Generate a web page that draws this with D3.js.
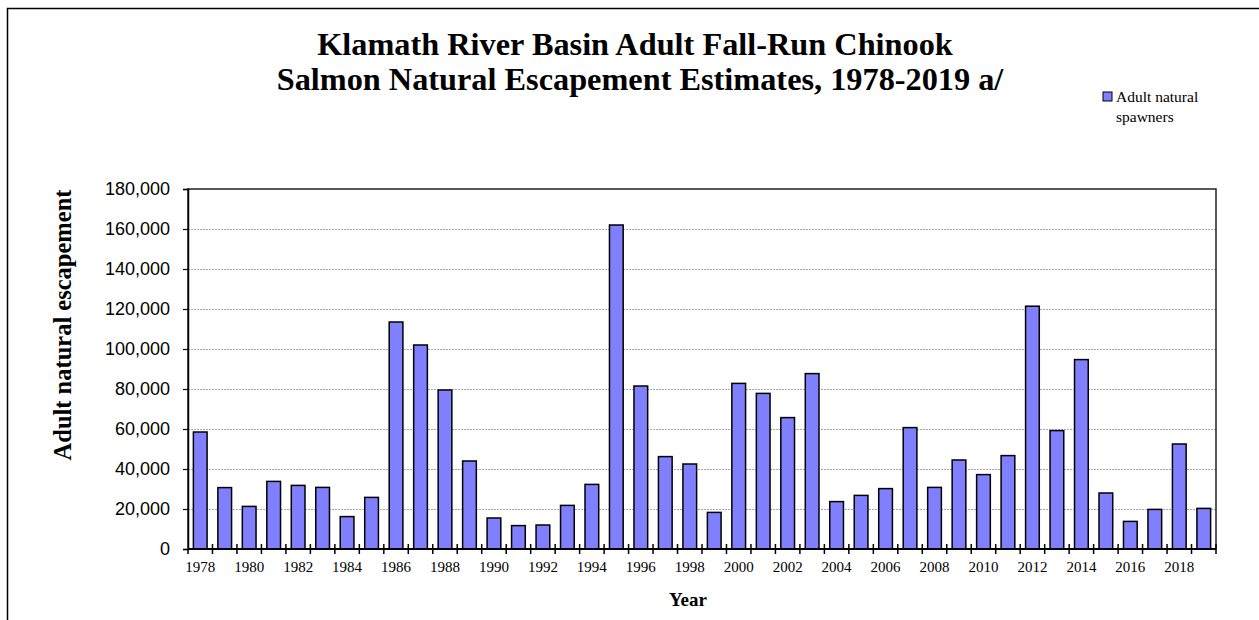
<!DOCTYPE html>
<html>
<head>
<meta charset="utf-8">
<script src="https://cdn.jsdelivr.net/npm/d3@7"></script>
<style>
  body { margin: 0; background: #fff; }
  svg { display: block; }
  .serif { font-family: "Liberation Serif", "Times New Roman", serif; }
  .sans { font-family: "Liberation Sans", Arial, sans-serif; }
</style>
</head>
<body>
<svg width="1259" height="620"></svg>
<script>
// chart values
var years = [1978, 1979, 1980, 1981, 1982, 1983, 1984, 1985, 1986, 1987,
  1988, 1989, 1990, 1991, 1992, 1993, 1994, 1995, 1996, 1997,
  1998, 1999, 2000, 2001, 2002, 2003, 2004, 2005, 2006, 2007,
  2008, 2009, 2010, 2011, 2012, 2013, 2014, 2015, 2016, 2017,
  2018, 2019];

var spawners = [58500, 30700, 21300, 33800, 31800, 30800, 16200, 25800, 113500, 102000,
  79500, 44000, 15500, 11700, 12000, 21800, 32300, 162000, 81500, 46200,
  42500, 18300, 82800, 77800, 65700, 87700, 23700, 26800, 30200, 60700,
  30800, 44500, 37200, 46700, 121400, 59200, 94700, 28000, 13800, 19800,
  52500, 20300];

var yTicks = [0, 20000, 40000, 60000, 80000, 100000, 120000, 140000, 160000, 180000];

var titleLines = ["Klamath River Basin Adult Fall-Run Chinook",
  "Salmon Natural Escapement Estimates, 1978-2019 a/"];
var legendLines = ["Adult natural", "spawners"];

var svg = d3.select("svg");

// plot area
var plot = { left: 188, right: 1216, top: 189, bottom: 549 };

var x = d3.scaleBand()
  .domain(years)
  .range([plot.left, plot.right])
  .paddingInner(0.44)
  .paddingOuter(0.22);

var y = d3.scaleLinear()
  .domain([0, 180000])
  .range([plot.bottom, plot.top]);

// outer chart frame (runs off the picture at right / bottom)
svg.append("rect")
  .attr("x", 7.5).attr("y", 8.5)
  .attr("width", 1300).attr("height", 700)
  .attr("fill", "none")
  .attr("stroke", "#000")
  .attr("stroke-width", 1.5);

// gridlines
svg.append("g").attr("id", "grid")
  .selectAll("line")
  .data(yTicks.slice(1, -1))
  .enter()
  .append("line")
  .attr("x1", plot.left).attr("x2", plot.right)
  .attr("y1", function(d) { return y(d) + 0.5; })
  .attr("y2", function(d) { return y(d) + 0.5; })
  .attr("stroke", "#a8a8a8")
  .attr("stroke-dasharray", "2,1");

// plot area border
svg.append("rect")
  .attr("x", plot.left).attr("y", y(180000))
  .attr("width", plot.right - plot.left)
  .attr("height", plot.bottom - plot.top)
  .attr("fill", "none")
  .attr("stroke", "#222")
  .attr("stroke-width", 1.5);

// bars
svg.append("g").attr("id", "bars")
  .selectAll("rect")
  .data(years)
  .enter()
  .append("rect")
  .attr("x", function(d) { return x(d); })
  .attr("width", x.bandwidth())
  .attr("y", function(d, i) { return y(spawners[i]); })
  .attr("height", function(d, i) { return y(0) - y(spawners[i]); })
  .attr("fill", "#8080ff")
  .attr("stroke", "#000")
  .attr("stroke-width", 1.5);

// y axis
var yAxis = svg.append("g")
  .attr("class", "sans")
  .attr("transform", "translate(" + plot.left + ",0)")
  .call(d3.axisLeft(y)
    .tickValues(yTicks)
    .tickSize(5)
    .tickPadding(13)
    .tickFormat(d3.format(",")));
yAxis.select(".domain").attr("stroke", "#000").attr("stroke-width", 1.5);
yAxis.selectAll(".tick line").attr("stroke", "#000").attr("stroke-width", 1.2);
yAxis.selectAll("text")
  .attr("fill", "#000")
  .style("font-size", "18px")
  .style("font-family", "'Liberation Sans', Arial, sans-serif");

// x axis: labels every other year
var xAxis = svg.append("g")
  .attr("class", "serif")
  .attr("transform", "translate(0," + plot.bottom + ")")
  .call(d3.axisBottom(x)
    .tickSize(0)
    .tickPadding(12)
    .tickFormat(function(d) { return d % 2 === 0 ? d : ""; }));
xAxis.select(".domain").remove();
xAxis.selectAll("text")
  .attr("fill", "#000")
  .style("font-size", "15px")
  .style("font-family", "'Liberation Serif', 'Times New Roman', serif");

// axis line + tick marks between categories
var half = x.step() * x.paddingInner() / 2;
var bounds = years.map(function(d) { return x(d) - half; });
bounds.push(x(years[years.length - 1]) + x.bandwidth() + half);

svg.append("line")
  .attr("x1", plot.left).attr("x2", plot.right)
  .attr("y1", plot.bottom).attr("y2", plot.bottom)
  .attr("stroke", "#000").attr("stroke-width", 1.8);

svg.append("g").attr("id", "xticks")
  .selectAll("line")
  .data(bounds)
  .enter()
  .append("line")
  .attr("x1", function(d) { return d; })
  .attr("x2", function(d) { return d; })
  .attr("y1", function(d, i) { return i === 0 ? plot.bottom : plot.bottom - 5; })
  .attr("y2", plot.bottom + 5)
  .attr("stroke", "#000")
  .attr("stroke-width", 1.5);

// axis titles
svg.append("text")
  .attr("class", "serif")
  .attr("x", 688).attr("y", 606)
  .attr("text-anchor", "middle")
  .style("font-size", "19px")
  .style("font-weight", "bold")
  .text("Year");

svg.append("text")
  .attr("class", "serif")
  .attr("transform", "translate(71,325) rotate(-90)")
  .attr("text-anchor", "middle")
  .style("font-size", "24.5px")
  .style("font-weight", "bold")
  .text("Adult natural escapement");

// title (two lines, each centred a little differently in the original)
svg.append("g").attr("id", "title")
  .selectAll("text")
  .data(titleLines)
  .enter()
  .append("text")
  .attr("class", "serif")
  .attr("x", function(d, i) { return i === 0 ? 635 : 640; })
  .attr("y", function(d, i) { return 55 + i * 35; })
  .attr("text-anchor", "middle")
  .style("font-size", "32.3px")
  .style("font-weight", "bold")
  .text(function(d) { return d; });

// legend
var legend = svg.append("g").attr("id", "legend");
legend.append("rect")
  .attr("x", 1103).attr("y", 92)
  .attr("width", 9).attr("height", 9)
  .attr("fill", "#8080ff")
  .attr("stroke", "#000")
  .attr("stroke-width", 1);
legend.selectAll("text")
  .data(legendLines)
  .enter()
  .append("text")
  .attr("class", "serif")
  .attr("x", 1116)
  .attr("y", function(d, i) { return 102 + i * 20; })
  .style("font-size", "15.5px")
  .text(function(d) { return d; });
</script>
</body>
</html>
